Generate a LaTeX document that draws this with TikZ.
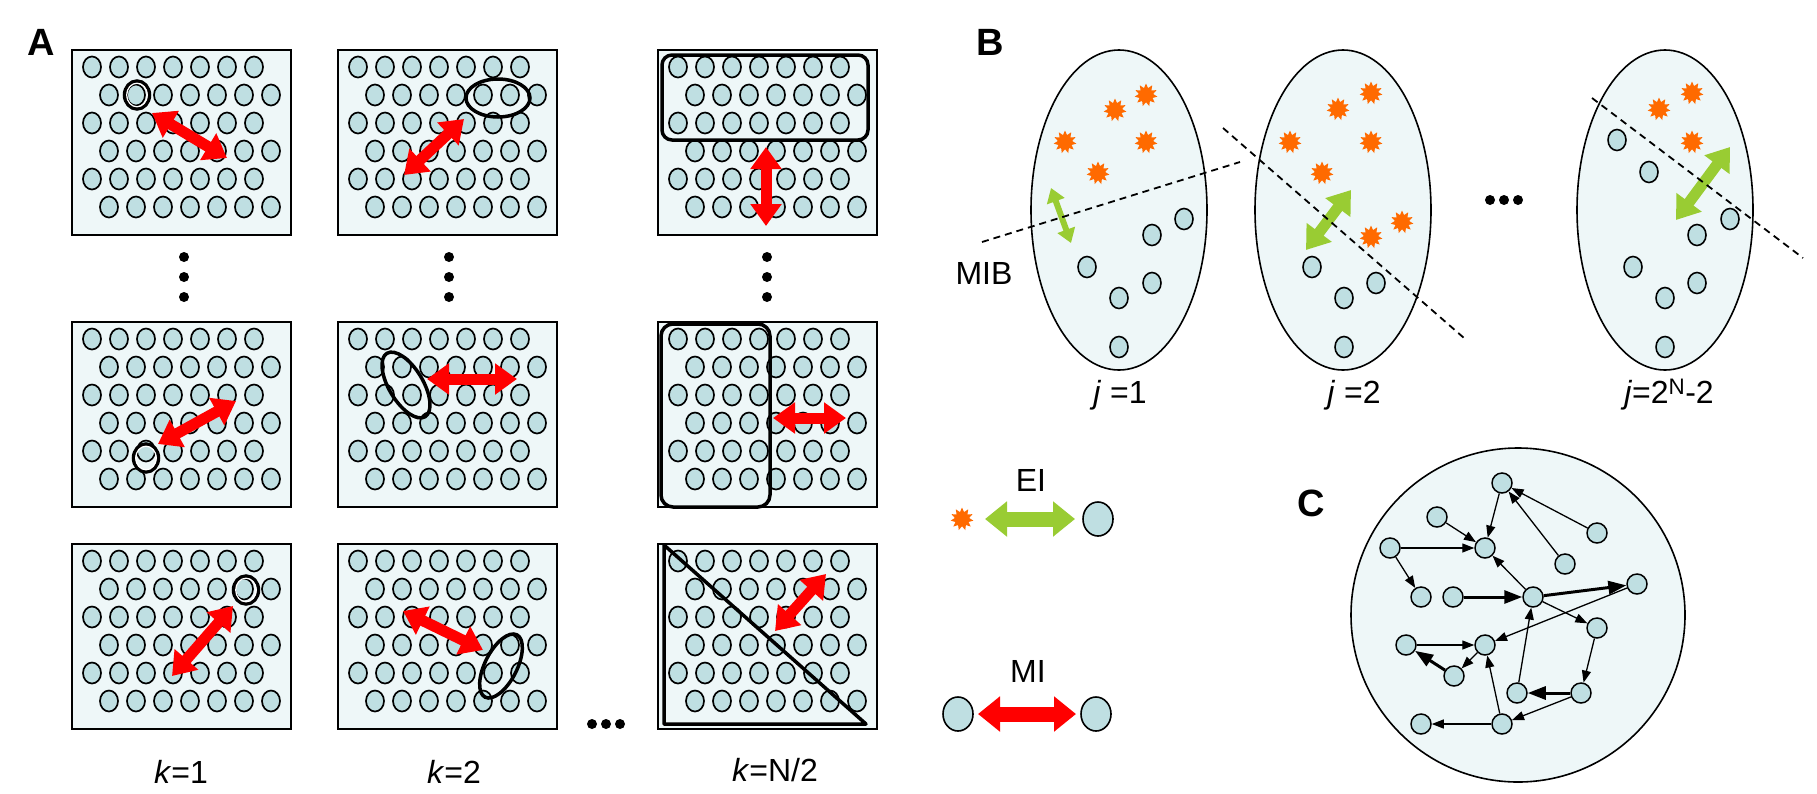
\documentclass[tikz,border=0pt]{standalone}
\usepackage{fontspec}
\setmainfont{Liberation Sans}
\usetikzlibrary{arrows.meta,shapes.geometric}
\definecolor{boxfill}{HTML}{EEF7F8}
\definecolor{dotfill}{HTML}{BFDFE2}
\definecolor{starorange}{HTML}{FF6A00}
\definecolor{eigreen}{HTML}{99CC33}
\definecolor{mired}{HTML}{FF0000}
\tikzset{
 boxst/.style={draw=black,line width=2pt,fill=boxfill},
 gdot/.style={draw=black,line width=1.7pt,fill=dotfill},
 hl/.style={draw=black,line width=3.5pt},
 redarr/.style={draw=mired,line width=11pt,{Triangle[width=30pt,length=22pt]}-{Triangle[width=30pt,length=22pt]}},
 grnarr/.style={draw=eigreen,line width=11pt,{Triangle[width=30pt,length=22pt]}-{Triangle[width=30pt,length=22pt]}},
 grnsmall/.style={draw=eigreen,line width=6pt,{Triangle[width=18pt,length=14pt]}-{Triangle[width=18pt,length=14pt]}},
 legred/.style={draw=mired,line width=15pt,{Triangle[width=34pt,length=22pt]}-{Triangle[width=34pt,length=22pt]}},
 leggrn/.style={draw=eigreen,line width=15pt,{Triangle[width=34pt,length=22pt]}-{Triangle[width=34pt,length=22pt]}},
 ell/.style={draw=black,line width=1.6pt,fill=boxfill},
 sdot/.style={ellipse,draw=black,line width=1.6pt,fill=dotfill,minimum width=18pt,minimum height=21pt,inner sep=0},
 burst/.style={star,star points=11,star point ratio=1.6,fill=starorange,minimum size=23pt,inner sep=0},
 mib/.style={draw=black,line width=1.8pt,dash pattern=on 7pt off 5pt},
 cnode/.style={circle,draw=black,line width=1.5pt,fill=dotfill,minimum size=20pt,inner sep=0},
 ce/.style={draw=black,line width=1.3pt,-{Triangle[width=9pt,length=12pt]}},
 cet/.style={draw=black,line width=3pt,-{Triangle[width=13pt,length=18pt]}},
 lab/.style={font=\fontsize{32}{38}\selectfont},
 plab/.style={font=\fontsize{38}{44}\selectfont\bfseries},
 bdot/.style={fill=black},
}
\newcommand\gridbox[2]{%
 \draw[boxst] (#1,#2) rectangle ++(219,185);
 \foreach \r in {0,...,5}{\foreach \c in {0,...,6}{%
  \pgfmathsetmacro\xx{#1+20+27*\c+mod(\r,2)*17}%
  \pgfmathsetmacro\yy{#2+17+28*\r}%
  \draw[gdot] (\xx,\yy) ellipse [x radius=9,y radius=10.5];}}}
\newcommand\dblring[2]{\draw[hl] (#1,#2) ellipse [x radius=12.5,y radius=14];
 \draw[white,line width=1.2pt] (#1,#2) ellipse [x radius=10.3,y radius=11.8];}
\begin{document}
\begin{tikzpicture}[x=1pt,y=-1pt]
\useasboundingbox (0,0) rectangle (1817,793);
\fill[white] (0,0) rectangle (1817,793);
% ---------- Panel A
\node[plab] (labA) at (41,42) {A};
\gridbox{72}{50}\gridbox{338}{50}\gridbox{658}{50}
\gridbox{72}{322}\gridbox{338}{322}\gridbox{658}{322}
\gridbox{72}{544}\gridbox{338}{544}\gridbox{658}{544}
% row 1
\dblring{137}{95}
\draw[redarr] (152,113) -- (227,158);
\draw[hl] (498,98) ellipse [x radius=32,y radius=19];
\draw[redarr] (464,119) -- (404,175);
\draw[hl,rounded corners=10pt] (662,55) rectangle (868,140);
\draw[redarr] (766,147) -- (766,226);
% vertical dots
\foreach \x in {184,449,767}{\foreach \y in {257,277,297}{\fill[bdot] (\x,\y) circle (5);}}
% row 2
\dblring{146}{458}
\draw[redarr] (158,444) -- (236,401);
\draw[hl] (406,385) ellipse [x radius=37,y radius=17,rotate=-59];
\draw[redarr] (427,379) -- (517,379);
\draw[hl,rounded corners=12pt] (661,324) rectangle (770,507);
\draw[redarr] (773,418) -- (846,418);
% row 3
\dblring{246}{590}
\draw[redarr] (233,606) -- (172,676);
\draw[hl] (501,666) ellipse [x radius=35,y radius=16,rotate=63];
\draw[redarr] (403,611) -- (483,650);
\draw[hl,line join=round] (664,545) -- (664,724) -- (866,724) -- cycle;
\draw[redarr] (826,574) -- (775,631);
\foreach \x in {592,606,620}{\fill[bdot] (\x,724) circle (5);}
\node[lab] (k1) at (181,772) {\textit{k}=1};
\node[lab] (k2) at (454,772) {\textit{k}=2};
\node[lab] (k3) at (775,770) {\textit{k}=N/2};
% ---------- Panel B
\node[plab] (labB) at (990,42) {B};
\draw[ell] (1119,210) ellipse [x radius=88,y radius=160];
\draw[ell] (1343,210) ellipse [x radius=88,y radius=160];
\draw[ell] (1665,210) ellipse [x radius=88,y radius=160];
\foreach \p in {(1146,95),(1115,110),(1065,142),(1146,142),(1098,173),
 (1371,93),(1338,109),(1290,142),(1371,142),(1322,173),(1402,222),(1371,237),
 (1692,93),(1659,109),(1692,142)}{\node[burst] at \p {};}
\foreach \p in {(1184,219),(1152,235),(1087,267),(1152,283),(1119,298),(1119,347),
 (1312,267),(1376,283),(1344,298),(1344,347),
 (1617,140),(1649,172),(1730,219),(1697,235),(1633,267),(1697,283),(1665,298),(1665,347)}{\node[sdot] at \p {};}
\draw[grnsmall] (1051,188) -- (1071,243);
\draw[grnarr] (1351,190) -- (1306,250);
\draw[grnarr] (1730,147) -- (1676,220);
\draw[mib] (982,242) -- (1240,162);
\draw[mib] (1223,128) -- (1464,338);
\draw[mib] (1592,98) -- (1803,258);
\foreach \x in {1490,1504,1518}{\fill[bdot] (\x,200) circle (5);}
\node[lab] (mibl) at (984,273) {MIB};
\node[lab] (j1) at (1120,395) {\textit{j} =1};
\node[lab] (j2) at (1354,395) {\textit{j} =2};
\node[lab] (j3) at (1669,395) {\textit{j}=2\textsuperscript{N}-2};
% ---------- Legend
\node[lab] (EI) at (1031,480) {EI};
\node[burst] (ls) at (962,519) {};
\node[sdot,minimum width=30pt,minimum height=34pt] (lc1) at (1098,519) {};
\draw[leggrn] (985,519) -- (1075,519);
\node[lab] (MI) at (1028,671) {MI};
\node[sdot,minimum width=30pt,minimum height=34pt] (lc2) at (958,714) {};
\node[sdot,minimum width=30pt,minimum height=34pt] (lc3) at (1096,714) {};
\draw[legred] (978,714) -- (1076,714);
% ---------- Panel C
\node[plab] (labC) at (1311,503) {C};
\draw[ell] (1518,615) circle (167);
\node[cnode] (n1) at (1502,483) {};
\node[cnode] (n2) at (1437,517) {};
\node[cnode] (n3) at (1597,533) {};
\node[cnode] (n4) at (1390,548) {};
\node[cnode] (n5) at (1485,548) {};
\node[cnode] (n6) at (1565,564) {};
\node[cnode] (n7) at (1421,597) {};
\node[cnode] (n8) at (1453,597) {};
\node[cnode] (n9) at (1533,597) {};
\node[cnode] (n10) at (1637,584) {};
\node[cnode] (n11) at (1597,628) {};
\node[cnode] (n12) at (1406,645) {};
\node[cnode] (n13) at (1485,645) {};
\node[cnode] (n14) at (1454,676) {};
\node[cnode] (n15) at (1517,693) {};
\node[cnode] (n16) at (1581,693) {};
\node[cnode] (n17) at (1421,724) {};
\node[cnode] (n18) at (1502,724) {};
\draw[ce] (n1) -- (n5);
\draw[ce] (n3) -- (n1);
\draw[ce] (n6) -- (n1);
\draw[ce] (n2) -- (n5);
\draw[ce] (n4) -- (n5);
\draw[ce] (n4) -- (n7);
\draw[ce] (n9) -- (n5);
\draw[cet] (n8) -- (n9);
\draw[cet] (n9) -- (n10);
\draw[ce] (n10) -- (n13);
\draw[ce] (n9) -- (n11);
\draw[ce] (n11) -- (n16);
\draw[cet] (n16) -- (n15);
\draw[ce] (n15) -- (n9);
\draw[ce] (n16) -- (n18);
\draw[ce] (n18) -- (n13);
\draw[ce] (n18) -- (n17);
\draw[ce] (n12) -- (n13);
\draw[ce] (n13) -- (n14);
\draw[cet] (n14) -- (n12);
\end{tikzpicture}
\end{document}
